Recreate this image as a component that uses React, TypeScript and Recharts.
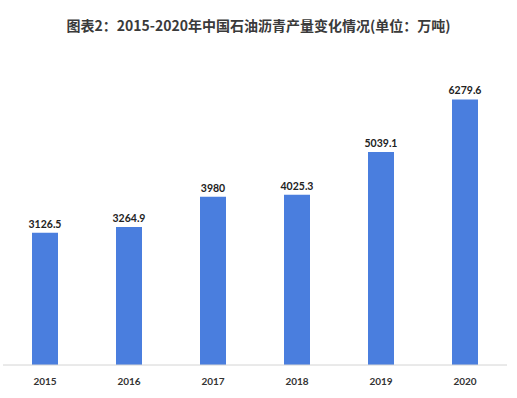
import React from 'react';
import { BarChart, Bar, XAxis, YAxis, LabelList } from 'recharts';

const years = ['2015', '2016', '2017', '2018', '2019', '2020'];
const output = [3126.5, 3264.9, 3980, 4025.3, 5039.1, 6279.6];
const title = '图表2：2015-2020年中国石油沥青产量变化情况(单位：万吨)';

const chartData = years.map((year, i) => ({ year, value: output[i] }));

export default function App() {
  return (
    <div
      style={{
        position: 'absolute',
        left: 0,
        top: 0,
        width: 517,
        height: 398,
        background: '#fff',
      }}
    >
      <div
        style={{
          position: 'absolute',
          top: 15,
          left: 0,
          width: 517,
          textAlign: 'center',
          fontFamily: '"Noto Sans CJK SC", sans-serif',
          fontWeight: 700,
          fontSize: 14,
          color: '#3a3a3a',
        }}
      >
        {title}
      </div>
      <BarChart
        width={517}
        height={398}
        data={chartData}
        margin={{ top: 69, right: 10, left: 3, bottom: 3 }}
      >
        <YAxis hide domain={[0, 7000]} />
        <XAxis
          dataKey="year"
          axisLine={{ stroke: '#d4d4d4' }}
          tickLine={false}
          tickMargin={7}
          tick={{ fontFamily: 'Lato, sans-serif', fontWeight: 700, fontSize: 10, fill: '#333' }}
        />
        <Bar dataKey="value" fill="#4a7ede" barSize={26} isAnimationActive={false}>
          <LabelList
            dataKey="value"
            position="top"
            offset={5}
            style={{ fontFamily: 'Lato, sans-serif', fontWeight: 700, fontSize: 10.5, fill: '#222' }}
          />
        </Bar>
      </BarChart>
    </div>
  );
}
